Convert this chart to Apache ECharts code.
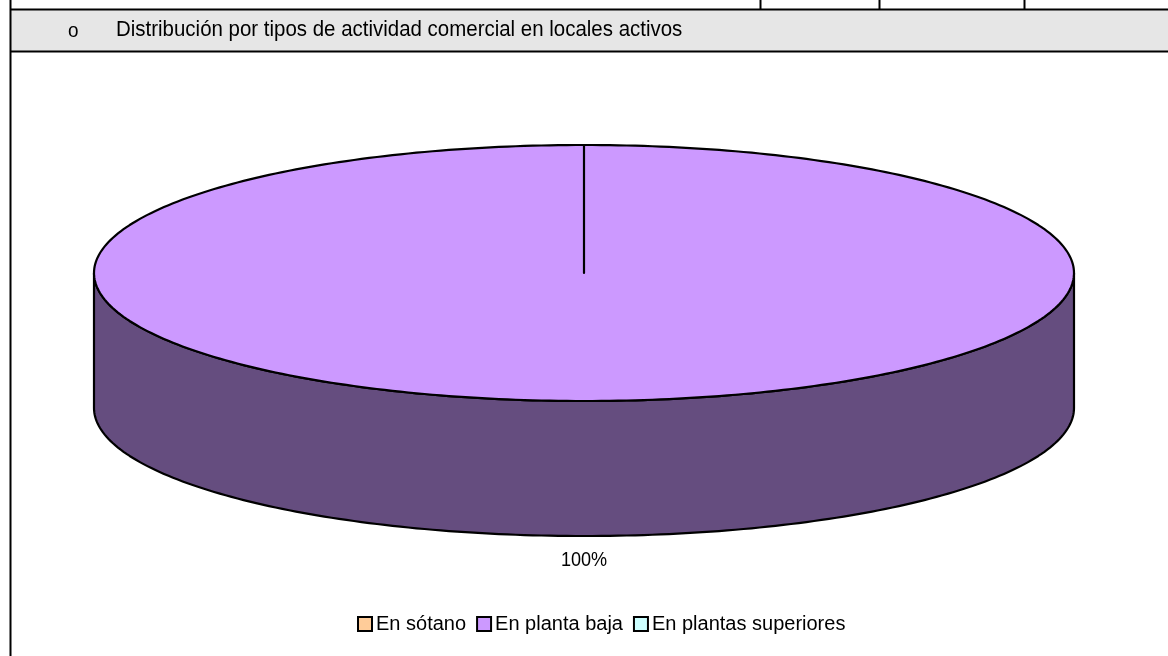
<!DOCTYPE html>
<html>
<head>
<meta charset="utf-8">
<style>
  html, body { margin: 0; padding: 0; background: #ffffff; }
  #chart { width: 1168px; height: 656px; }
</style>
<script src="https://cdn.jsdelivr.net/npm/echarts@6/dist/echarts.min.js"></script>
</head>
<body>
<div id="chart"></div>
<script>
// Locales activos por planta
const categories = ['En sótano', 'En planta baja', 'En plantas superiores'];
const values = [0, 100, 0];
const topColors = ['#ffcc99', '#cc99ff', '#ccffff'];
const sideColors = ['#806650', '#654d7f', '#668080'];
const headerTitle = 'Distribución por tipos de actividad comercial en locales activos';

const FONT = "'Liberation Sans', Arial, sans-serif";
const NARROW = 0.82; // horizontal squeeze for a narrow face

// Tilted pie geometry
const PIE = { cx: 584, cy: 273, rx: 490, ry: 128, depth: 135 };
const total = values.reduce((a, b) => a + b, 0);

function pt(theta, dy) {
  return [PIE.cx + PIE.rx * Math.cos(theta), PIE.cy + PIE.ry * Math.sin(theta) + (dy || 0)];
}
function arc(a1, a2, dy) {
  const n = Math.max(2, Math.ceil(Math.abs(a2 - a1) / (Math.PI / 180)));
  const out = [];
  for (let k = 0; k <= n; k++) out.push(pt(a1 + (a2 - a1) * k / n, dy));
  return out;
}

function renderSlice(params, api) {
  const i = params.seriesIndex;
  const v = api.value(0);
  if (!v || !total) return { type: 'group', children: [] };
  let before = 0;
  for (let k = 0; k < i; k++) before += values[k];
  // slices run clockwise from 12 o'clock
  const a1 = -Math.PI / 2 + before / total * Math.PI * 2;
  const a2 = a1 + v / total * Math.PI * 2;
  const children = [];
  const stroke = { stroke: '#000', lineWidth: 2.2, lineJoin: 'round' };

  // outer wall on the visible (front) half
  for (let k = -1; k <= 2; k++) {
    const lo = Math.max(a1, 2 * Math.PI * k);
    const hi = Math.min(a2, 2 * Math.PI * k + Math.PI);
    if (hi > lo) {
      const pts = arc(lo, hi, 0).concat(arc(hi, lo, PIE.depth));
      children.push({
        type: 'polygon',
        shape: { points: pts },
        style: Object.assign({ fill: sideColors[i] }, stroke)
      });
    }
  }
  // top face
  const topPts = [[PIE.cx, PIE.cy]].concat(arc(a1, a2, 0));
  children.push({
    type: 'polygon',
    shape: { points: topPts },
    style: Object.assign({ fill: topColors[i] }, stroke)
  });
  // percentage label
  const mid = (a1 + a2) / 2;
  const s = Math.sin(mid);
  const lx = PIE.cx + (PIE.rx + 24) * Math.cos(mid);
  const ly = PIE.cy + (PIE.ry + 24) * s + (s > 0 ? PIE.depth : 0);
  children.push({
    type: 'text',
    x: lx, y: ly,
    scaleX: 0.86,
    style: {
      x: 0, y: 0,
      text: Math.round(v / total * 100) + '%',
      fill: '#000',
      font: '21px ' + FONT,
      align: 'center',
      verticalAlign: 'middle'
    }
  });
  return { type: 'group', children: children };
}

const chart = echarts.init(document.getElementById('chart'), null, { renderer: 'canvas' });

const line = (x1, y1, x2, y2) => ({
  type: 'line',
  shape: { x1: x1, y1: y1, x2: x2, y2: y2 },
  style: { stroke: '#000', lineWidth: 2 },
  silent: true
});

chart.setOption({
  animation: false,
  backgroundColor: '#ffffff',
  graphic: [
    { type: 'rect', shape: { x: 11, y: 10, width: 1160, height: 41 }, style: { fill: '#e6e6e6' }, silent: true },
    line(10, 9.5, 1168, 9.5),
    line(10, 51.5, 1168, 51.5),
    line(10.5, 0, 10.5, 656),
    line(760.5, 0, 760.5, 9),
    line(879.5, 0, 879.5, 9),
    line(1024.5, 0, 1024.5, 9),
    { type: 'text', x: 68, y: 31, scaleX: 0.9,
      style: { x: 0, y: 0, text: 'o', fill: '#000', font: '21px ' + FONT, verticalAlign: 'middle' } },
    { type: 'text', x: 116, y: 30, scaleX: 0.93,
      style: { x: 0, y: 0, text: headerTitle, fill: '#000', font: '22px ' + FONT, verticalAlign: 'middle' } }
  ],
  legend: {
    left: 357,
    top: 614,
    padding: 0,
    itemWidth: 14,
    itemHeight: 14,
    itemGap: 10,
    icon: 'rect',
    textStyle: { fontFamily: FONT, fontSize: 20, color: '#000', padding: [0, 0, 0, -1] },
    data: categories.map((c, i) => ({
      name: c,
      itemStyle: { color: topColors[i], borderColor: '#000', borderWidth: 2 }
    }))
  },
  series: categories.map((c, i) => ({
    type: 'custom',
    name: c,
    coordinateSystem: 'none',
    itemStyle: { color: topColors[i] },
    renderItem: renderSlice,
    data: [[values[i]]]
  }))
});
</script>
</body>
</html>
